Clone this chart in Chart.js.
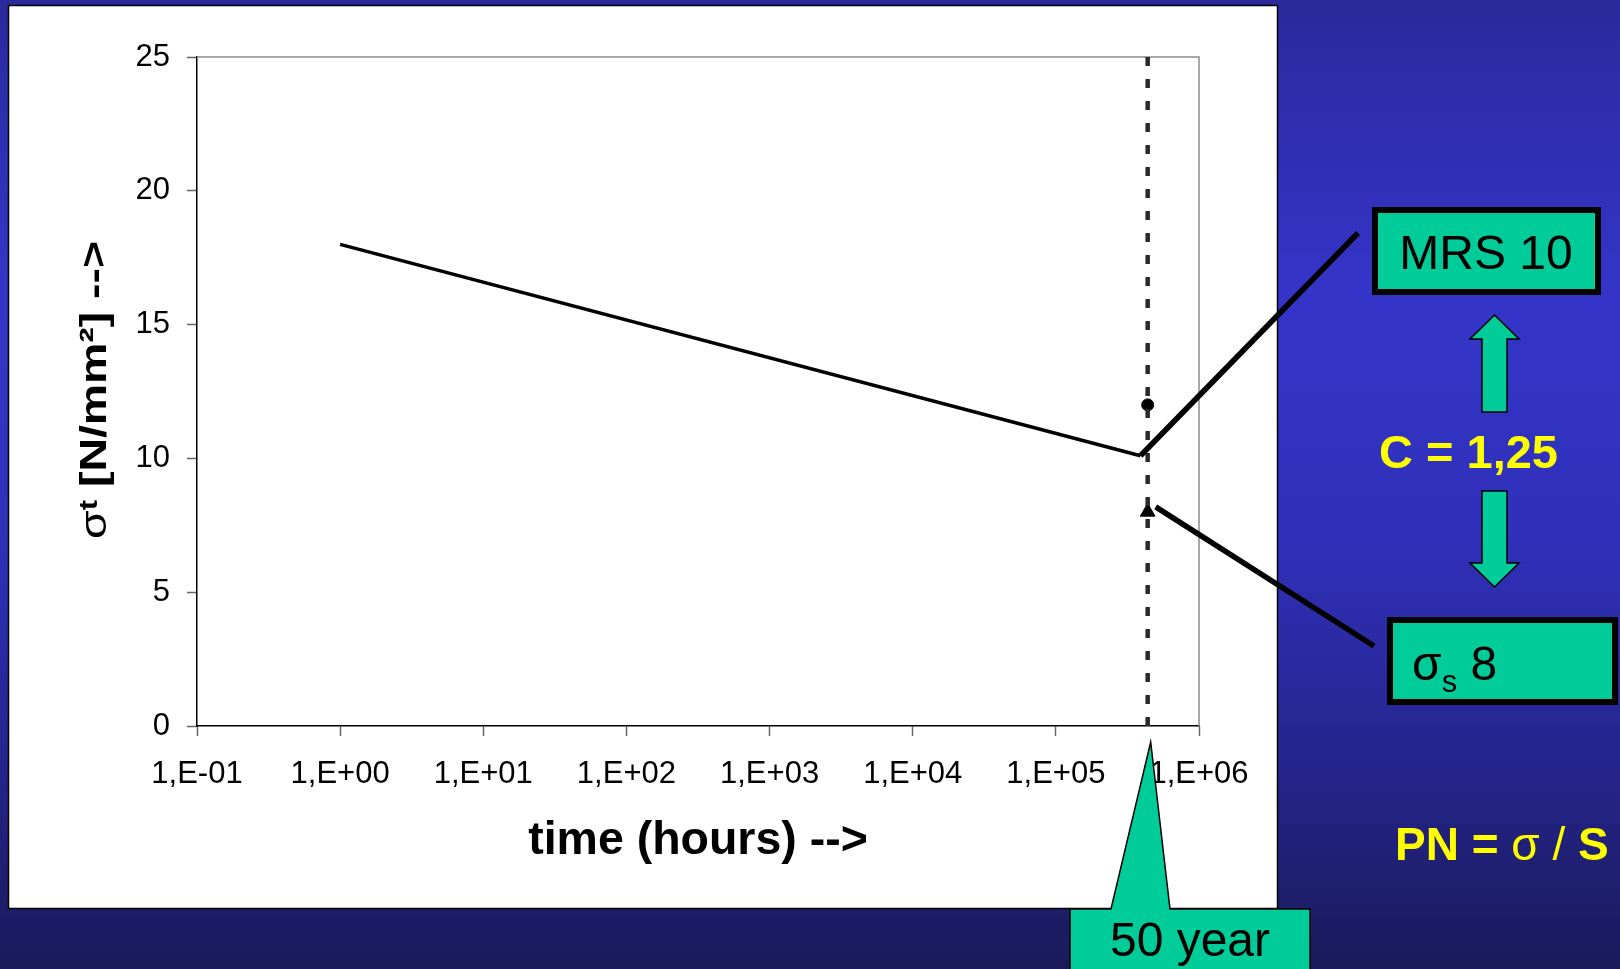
<!DOCTYPE html>
<html>
<head>
<meta charset="utf-8">
<script src="https://cdn.jsdelivr.net/npm/chart.js@4/dist/chart.umd.min.js"></script>
<style>
html,body{margin:0;padding:0;overflow:hidden;background:#2a2a9c;}
#wrap{width:1620px;height:969px;position:relative;}
</style>
</head>
<body>
<div id="wrap"><canvas id="c" width="1620" height="969"></canvas></div>
<script>
// ---- data ----
const xTickValues = [0.1, 1, 10, 100, 1000, 10000, 100000, 1000000];
const xTickLabels = ["1,E-01", "1,E+00", "1,E+01", "1,E+02", "1,E+03", "1,E+04", "1,E+05", "1,E+06"];
const yTickStep = 5;
const yMin = 0;
const yMax = 25;
const regressionHours = [1, 390000];
const regressionStress = [18, 10.1];
const fiftyYearHours = 438000;
const guideStress = [0, 25];
const mrsStress = [12];
const designStress = [8];
const xTitle = "time (hours) -->";
const yTitleSigma = "σ";
const yTitleSub = "t";
const yTitleRest = " [N/mm²] -->";
const mrsLabel = "MRS 10";
const cLabel = "C = 1,25";
const sigmaSLabel = ["σ", "s", " 8"];
const pnLabelParts = ["PN = ", "σ / ", "S"];
const yearLabel = "50 year";

const FONT = "'Liberation Sans', Arial, sans-serif";
const GREEN = "#00CC99";
const YELLOW = "#FFFF00";

const bgPlugin = {
  id: 'bg',
  beforeDraw(chart) {
    const ctx = chart.ctx;
    ctx.save();
    const g = ctx.createLinearGradient(0, 0, 0, 969);
    g.addColorStop(0, '#2a2a9c');
    g.addColorStop(0.3, '#3434c9');
    g.addColorStop(0.55, '#3030bb');
    g.addColorStop(0.8, '#24248a');
    g.addColorStop(1, '#1a1a5a');
    ctx.fillStyle = g;
    ctx.fillRect(0, 0, 1620, 969);
    ctx.fillStyle = '#ffffff';
    ctx.fillRect(8, 5, 1270, 904);
    ctx.strokeStyle = '#000';
    ctx.lineWidth = 1.5;
    ctx.strokeRect(8.5, 5.5, 1269, 903);
    ctx.restore();
  },
  beforeDatasetsDraw(chart) {
    const {ctx, chartArea: a} = chart;
    ctx.save();
    ctx.strokeStyle = '#8a8a8a';
    ctx.lineWidth = 1.5;
    ctx.beginPath();
    ctx.moveTo(a.left, a.top);
    ctx.lineTo(a.right, a.top);
    ctx.lineTo(a.right, a.bottom);
    ctx.stroke();
    ctx.restore();
  }
};

function poly(ctx, pts, fill, stroke, lw) {
  ctx.beginPath();
  ctx.moveTo(pts[0][0], pts[0][1]);
  for (let i = 1; i < pts.length; i++) ctx.lineTo(pts[i][0], pts[i][1]);
  ctx.closePath();
  ctx.fillStyle = fill;
  ctx.fill();
  ctx.strokeStyle = stroke;
  ctx.lineWidth = lw;
  ctx.stroke();
}

function box(ctx, x1, y1, x2, y2, bw) {
  ctx.fillStyle = GREEN;
  ctx.fillRect(x1, y1, x2 - x1, y2 - y1);
  ctx.strokeStyle = '#000';
  ctx.lineWidth = bw;
  ctx.strokeRect(x1 + bw / 2, y1 + bw / 2, x2 - x1 - bw, y2 - y1 - bw);
}

const overlayPlugin = {
  id: 'overlay',
  afterDraw(chart) {
    const ctx = chart.ctx;
    const xs = chart.scales.x, ys = chart.scales.y;
    ctx.save();

    // y axis title (rotated)
    ctx.save();
    ctx.translate(106, 390);
    ctx.rotate(-Math.PI / 2);
    ctx.fillStyle = '#000';
    ctx.textBaseline = 'alphabetic';
    const fMain = "bold 37px " + FONT, fSig = "37px " + FONT, fSub = "bold 25px " + FONT;
    ctx.font = fSig; const w1 = ctx.measureText(yTitleSigma).width;
    ctx.font = fSub; const w2 = ctx.measureText(yTitleSub).width;
    ctx.font = fMain; const w3 = ctx.measureText(yTitleRest).width;
    const W = w1 + w2 + w3;
    ctx.scale(298 / W, 1);
    let px = -W / 2;
    ctx.textAlign = 'left';
    ctx.font = fSig; ctx.fillText(yTitleSigma, px, 0); px += w1;
    ctx.font = fSub; ctx.fillText(yTitleSub, px, -9); px += w2;
    ctx.font = fMain; ctx.fillText(yTitleRest, px, 0);
    ctx.restore();

    // pointer lines
    ctx.strokeStyle = '#000';
    ctx.lineWidth = 5.5;
    ctx.lineCap = 'butt';
    const ex = xs.getPixelForValue(regressionHours[1]);
    const ey = ys.getPixelForValue(regressionStress[1]);
    ctx.beginPath(); ctx.moveTo(ex, ey); ctx.lineTo(1358, 233); ctx.stroke();
    const tx = xs.getPixelForValue(fiftyYearHours);
    const ty = ys.getPixelForValue(designStress[0]);
    ctx.beginPath(); ctx.moveTo(tx + 8, ty - 5); ctx.lineTo(1374, 646); ctx.stroke();

    // MRS box
    box(ctx, 1372, 207, 1601, 295, 6);
    ctx.fillStyle = '#000';
    ctx.font = "48px " + FONT;
    ctx.textAlign = 'center';
    ctx.textBaseline = 'alphabetic';
    ctx.fillText(mrsLabel, 1486, 269);

    // arrows
    poly(ctx, [[1494.5,315],[1519,339],[1507,339],[1507,412],[1482,412],[1482,339],[1470,339]], GREEN, '#000', 1.5);
    poly(ctx, [[1482,491],[1507,491],[1507,563],[1519,563],[1494.5,587],[1470,563],[1482,563]], GREEN, '#000', 1.5);

    // C = 1,25
    ctx.fillStyle = YELLOW;
    ctx.font = "bold 47px " + FONT;
    ctx.textAlign = 'left';
    ctx.fillText(cLabel, 1379, 468);

    // sigma_s box
    box(ctx, 1387, 617, 1618, 705, 6);
    ctx.fillStyle = '#000';
    ctx.font = "48px " + FONT;
    ctx.fillText(sigmaSLabel[0], 1412, 680);
    let sx = 1412 + ctx.measureText(sigmaSLabel[0]).width;
    ctx.font = "31px " + FONT;
    ctx.fillText(sigmaSLabel[1], sx, 692);
    sx += ctx.measureText(sigmaSLabel[1]).width;
    ctx.font = "48px " + FONT;
    ctx.fillText(sigmaSLabel[2], sx, 680);

    // PN = sigma / S
    ctx.fillStyle = YELLOW;
    const pnFonts = ["bold 46px " + FONT, "46px " + FONT, "bold 46px " + FONT];
    let pxx = 1395;
    for (let i = 0; i < pnLabelParts.length; i++) {
      ctx.font = pnFonts[i];
      ctx.fillText(pnLabelParts[i], pxx, 860);
      pxx += ctx.measureText(pnLabelParts[i]).width;
    }

    // 50 year callout
    poly(ctx, [[1070,909],[1111,909],[tx + 3,742],[1170,909],[1310,909],[1310,975],[1070,975]], GREEN, '#000', 1.5);
    ctx.fillStyle = '#000';
    ctx.font = "48px " + FONT;
    ctx.textAlign = 'center';
    ctx.fillText(yearLabel, 1190, 956);

    ctx.restore();
  }
};

new Chart(document.getElementById('c'), {
  type: 'scatter',
  data: {
    datasets: [
      {
        label: 'regression',
        type: 'line',
        data: regressionHours.map((h, i) => ({x: h, y: regressionStress[i]})),
        borderColor: '#000', borderWidth: 3.5, pointRadius: 0, showLine: true, fill: false
      },
      {
        label: '50 year',
        type: 'line',
        data: guideStress.map(s => ({x: fiftyYearHours, y: s})),
        borderColor: '#2a2a2a', borderWidth: 4.5, borderDash: [9, 13], pointRadius: 0, showLine: true, fill: false
      },
      {
        label: 'MRS',
        data: mrsStress.map(s => ({x: fiftyYearHours, y: s})),
        pointStyle: 'circle', pointRadius: 6, backgroundColor: '#000', borderColor: '#000'
      },
      {
        label: 'sigma s',
        data: designStress.map(s => ({x: fiftyYearHours, y: s})),
        pointStyle: 'triangle', pointRadius: 8.5, backgroundColor: '#000', borderColor: '#000'
      }
    ]
  },
  options: {
    responsive: false,
    animation: false,
    devicePixelRatio: 1,
    layout: {padding: {left: 0, top: 57, right: 421, bottom: 0}},
    plugins: {legend: {display: false}, tooltip: {enabled: false}},
    scales: {
      x: {
        type: 'logarithmic',
        min: xTickValues[0],
        max: xTickValues[xTickValues.length - 1],
        afterBuildTicks: s => { s.ticks = xTickValues.map(v => ({value: v})); },
        afterFit: s => { s.height = 243; },
        ticks: {
          callback: (v, i) => xTickLabels[i],
          font: {family: FONT, size: 31},
          color: '#000',
          padding: 20,
          maxRotation: 0,
          autoSkip: false
        },
        grid: {drawOnChartArea: false, drawTicks: true, tickLength: 10, tickColor: '#666', tickWidth: 1.5},
        border: {display: true, color: '#000', width: 1.5},
        title: {
          display: true, text: xTitle, color: '#000',
          font: {family: FONT, size: 46.5, weight: 'bold'},
          padding: {top: 0, bottom: 100}
        }
      },
      y: {
        min: yMin, max: yMax,
        afterFit: s => { s.width = 197; },
        ticks: {stepSize: yTickStep, font: {family: FONT, size: 31}, color: '#000', padding: 17},
        grid: {drawOnChartArea: false, drawTicks: true, tickLength: 10, tickColor: '#666', tickWidth: 1.5},
        border: {display: true, color: '#000', width: 1.5},
        title: {display: false}
      }
    }
  },
  plugins: [bgPlugin, overlayPlugin]
});
</script>
</body>
</html>
